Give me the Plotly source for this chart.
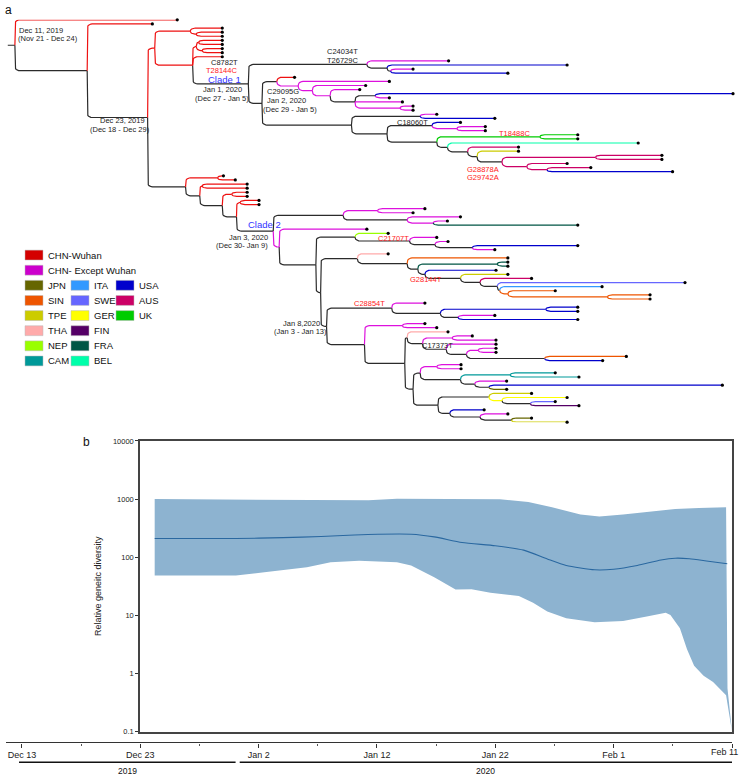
import numpy as np
import plotly.graph_objects as go
from collections import OrderedDict

W, H = 740, 782
FONT = "Liberation Sans, Arial, sans-serif"

# ---------------- legend / location data ----------------
loc_codes = ["WUH", "CHN", "JPN", "SIN", "TPE", "THA", "NEP", "CAM", "ITA", "SWE",
             "GER", "FIN", "FRA", "BEL", "USA", "AUS", "UK"]
loc_names = ["CHN-Wuhan", "CHN- Except Wuhan", "JPN", "SIN", "TPE", "THA", "NEP", "CAM",
             "ITA", "SWE", "GER", "FIN", "FRA", "BEL", "USA", "AUS", "UK"]
loc_colors = ["#d40000", "#cc00cc", "#666600", "#ee5500", "#cccc00", "#ffaaaa", "#99ff00",
              "#009999", "#3399ff", "#6666ff", "#ffff00", "#550066", "#005544", "#00ffaa",
              "#0000cc", "#cc0066", "#00cc00"]
legend_col = [0, 0, 0, 0, 0, 0, 0, 0, 1, 1, 1, 1, 1, 1, 2, 2, 2]
legend_row = [0, 1, 2, 3, 4, 5, 6, 7, 2, 3, 4, 5, 6, 7, 2, 3, 4]

# ---------------- tree data (times = days since Dec 13, 2019) ----------------
def N(t, c, *kids):
    return {"t": t, "c": c, "kids": list(kids)}


def L(t, c):
    return {"t": t, "c": c, "kids": []}


clade1_a = N(29.1, "K", L(36.0, "CHN"),
             N(30.8, "K", L(46.0, "USA"), N(31.1, "K", L(33.0, "CHN"), L(41.0, "USA"))))
clade1_jan2_top = N(21.5, "K",
                    L(23.0, "WUH"),
                    N(23.3, "CHN",
                      L(31.0, "CHN"),
                      N(24.5, "CHN",
                        L(29.0, "CHN"),
                        N(26.0, "CHN",
                          L(28.5, "CHN"),
                          N(28.1, "K",
                            N(29.8, "K", L(60.0, "USA"), L(31.0, "CHN")),
                            L(32.1, "CHN"),
                            N(31.9, "CHN", L(33.0, "CHN"), L(33.0, "CHN")))))))
clade1_jan2_bottom = N(27.8, "K",
                       N(33.6, "K", L(35.0, "CHN"), L(39.9, "USA")),
                       N(30.8, "K",
                         N(34.6, "K", L(37.0, "USA"),
                           N(36.7, "CHN", L(39.1, "CHN"), L(39.1, "CHN"))),
                         N(35.0, "K",
                           N(43.7, "UK", L(46.9, "UK"), L(46.9, "UK")),
                           N(35.9, "K",
                             L(52.0, "BEL"),
                             N(37.6, "K",
                               L(41.9, "AUS"),
                               N(38.4, "K",
                                 L(41.9, "TPE"),
                                 N(40.5, "K",
                                   N(48.4, "AUS", L(54.0, "AUS"), L(54.0, "AUS")),
                                   N(42.6, "AUS", L(46.0, "AUS"),
                                     N(44.3, "AUS", L(48.0, "AUS"), L(54.9, "USA"))))))))))
clade1 = N(19.1, "K", clade1_a, N(20.25, "K", clade1_jan2_top, clade1_jan2_bottom))

wuhan_early = N(11.2, "WUH",
                N(14.2, "WUH", L(16.9, "WUH"), N(14.7, "WUH", L(16.9, "WUH"), L(16.9, "WUH"))),
                N(14.4, "WUH",
                  N(14.7, "WUH",
                    N(14.9, "WUH", L(16.9, "WUH"), L(16.9, "WUH")),
                    N(15.2, "WUH", L(16.9, "WUH"), L(16.9, "WUH"))),
                  L(16.9, "WUH"),
                  clade1))

c2_top = N(27.1, "K",
           N(30.0, "CHN", L(34.0, "CHN"), L(33.0, "CHN")),
           N(32.5, "K", L(37.0, "CHN"), N(34.7, "CHN", L(35.9, "CHN"), L(46.9, "FRA"))))
c2_nep = N(28.1, "K",
           L(30.9, "NEP"),
           N(32.7, "K", L(35.0, "CHN"),
             N(34.85, "K", L(35.95, "CHN"), N(38.0, "K", L(46.9, "USA"), L(39.9, "CHN")))))
c2_g28144t = N(28.3, "K",
               L(30.9, "THA"),
               N(32.5, "K",
                 L(41.0, "SIN"),
                 N(33.4, "K",
                   N(40.1, "FRA", L(41.0, "FRA"), L(41.0, "FRA")),
                   N(34.0, "K",
                     L(40.0, "USA"),
                     N(37.0, "K",
                       L(41.0, "TPE"),
                       N(38.65, "K",
                         L(43.0, "AUS"),
                         N(40.1, "K",
                           L(55.95, "SWE"),
                           N(40.3, "K",
                             L(48.95, "ITA"),
                             N(41.0, "SIN", L(45.0, "SIN"),
                               N(49.4, "SIN", L(53.0, "SIN"), L(53.0, "SIN")))))))))))
c2_c28854t = N(31.2, "K",
               L(34.0, "CHN"),
               N(35.3, "K",
                 N(44.2, "USA", L(46.9, "USA"), L(46.9, "USA")),
                 N(36.8, "K", L(39.9, "CHN"), L(46.9, "USA"))))
c2_c17373t = N(33.8, "K",
               N(36.3, "CHN", L(38.0, "CHN"), L(40.0, "CHN")),
               N(35.8, "K",
                 L(40.0, "CHN"),
                 N(37.5, "K",
                   N(38.5, "CHN", L(40.0, "CHN"), L(40.0, "CHN")),
                   N(44.1, "K", L(51.0, "SIN"), L(49.0, "USA")))))
c2_late_a = N(33.6, "K",
              N(35.0, "CHN", L(37.05, "CHN"), L(37.05, "CHN")),
              N(37.0, "K",
                N(41.2, "CAM", L(45.0, "CAM"), L(47.0, "CAM")),
                N(38.2, "K", L(40.9, "CHN"), N(39.4, "K", L(59.1, "USA"), L(40.9, "JPN")))))
c2_late_b = N(35.1, "K",
              N(39.4, "K",
                L(43.0, "TPE"),
                N(40.5, "GER", L(46.0, "GER"), N(42.9, "K", L(45.0, "SWE"), L(47.0, "FIN")))),
              N(36.1, "K",
                L(39.0, "USA"),
                N(38.65, "K", L(41.0, "CHN"), N(41.3, "K", L(43.0, "JPN"), L(46.0, "TPE")))))
c2_jan8 = N(25.7, "K",
            c2_c28854t,
            N(28.9, "K",
              N(32.1, "CHN", L(34.0, "CHN"), L(35.0, "CHN")),
              N(32.3, "K",
                N(32.5, "K", L(35.95, "THA"), c2_c17373t),
                N(33.0, "K", c2_late_a, c2_late_b))))
clade2 = N(21.2, "K",
           c2_top,
           N(21.7, "CHN",
             L(29.1, "CHN"),
             N(24.8, "K", c2_nep, N(25.2, "K", c2_g28144t, c2_jan8))))

precursor = N(13.8, "K",
              N(16.5, "WUH", L(17.0, "WUH"), L(18.0, "WUH")),
              N(15.0, "K",
                N(15.2, "WUH", L(19.0, "WUH"), L(19.0, "WUH")),
                N(16.9, "K",
                  N(17.7, "WUH", L(19.0, "WUH"), L(19.0, "WUH")),
                  N(18.1, "K",
                    N(18.4, "WUH", L(20.0, "WUH"), L(20.0, "WUH")),
                    clade2))))

tree_root = N(-0.6, "K",
              L(13.1, "WUH"),
              N(5.5, "K",
                L(11.0, "WUH"),
                N(10.6, "K", wuhan_early, precursor)))
root_stub_start = -1.2

# ---------------- skyline data (days since Dec 13, 2019) ----------------
upper_day = [11.24, 18.1, 24.1, 29.3, 31.7, 36.0, 40.4, 42.8, 44.8, 47.2, 48.8, 50.8,
             53.2, 55.2, 57.2, 59.5, 59.62, 60.0]
upper_val = [1000, 987, 950, 950, 1013, 1013, 987, 889, 722, 541, 500, 541,
             617, 676, 703, 722, 0.55, 0.1]
lower_day = [11.24, 18.1, 20.5, 24.1, 26.1, 28.5, 31.7, 32.9, 34.85, 36.65, 38.0, 39.6,
             42.0, 43.2, 44.4, 46.0, 48.4, 50.8, 52.8, 54.4, 54.8, 55.6, 56.2, 56.8,
             57.6, 58.4, 59.5, 60.0]
lower_val = [48.5, 48.5, 55, 67, 82, 87, 82, 72, 45, 27.7, 28, 24.3,
             21.4, 16.4, 11.6, 8.9, 7.6, 8.0, 9.5, 11.1, 10.1, 6.0, 2.6, 1.36,
             0.91, 0.71, 0.42, 0.1]
median_day = [11.24, 18.1, 22.1, 25.3, 28.1, 30.1, 32.9, 34.85, 37.2, 40.0, 42.4, 44.4,
              46.0, 48.4, 50.0, 52.0, 54.0, 55.2, 56.4, 58.0, 59.6]
median_val = [209, 209, 217, 226, 241, 248, 248, 223, 179, 157, 132, 93,
              72, 60.6, 62, 72, 89.5, 96, 94, 85, 77]

date_tick_day = [0, 10, 20, 30, 40, 50, 60]
date_tick_text = ["Dec 13", "Dec 23", "Jan 2", "Jan 12", "Jan 22", "Feb 1", "Feb 11"]
year_text = ["2019", "2020"]
year_start = [-0.25, 18.4]
year_end = [18.05, 60.0]

div_ticks = [0.1, 1, 10, 100, 1000, 10000]
div_tick_text = ["0.1", "1", "10", "100", "1000", "10000"]

# ---------------- helpers ----------------
PX_PER_DAY = 11.85
X0_PX = 22.0


def px(x, y):
    return x / W, 1 - y / H


color_of = dict(zip(loc_codes, loc_colors))
color_of["K"] = "#2b2b2b"
line_color_of = dict(color_of)
line_color_of["WUH"] = "#ee1111"
line_color_of["CHN"] = "#dd11dd"

leaves = []


def layout_tree(node):
    if not node["kids"]:
        node["y"] = float(len(leaves))
        leaves.append(node)
        return node["y"]
    ys = [layout_tree(k) for k in node["kids"]]
    node["y"] = (ys[0] + ys[-1]) / 2.0
    return node["y"]


layout_tree(tree_root)
n_leaves = len(leaves)

segs = OrderedDict()


def add_seg(col, xs, ys):
    d = segs.setdefault(col, ([], []))
    d[0].extend(xs + [None])
    d[1].extend(ys + [None])


RX, RY = 0.42, 1.0
theta = np.linspace(0, np.pi / 2, 7)


def elbow(x0, y0, x1, y1):
    dy = y1 - y0
    if abs(dy) < 1e-9:
        return [x0, x1], [y0, y1]
    s = 1.0 if dy > 0 else -1.0
    ry = min(RY, abs(dy))
    rx = min(RX, max((x1 - x0) * 0.8, 0.05))
    xs = [x0]
    ys = [y0]
    for th in theta:
        xs.append(x0 + rx - rx * np.cos(th))
        ys.append(y1 - s * ry + s * ry * np.sin(th))
    xs.append(x1)
    ys.append(y1)
    return xs, ys


def draw(node):
    for k in node["kids"]:
        xs, ys = elbow(node["t"], node["y"], k["t"], k["y"])
        add_seg(k["c"], [float(v) for v in xs], [float(v) for v in ys])
        draw(k)


add_seg("K", [root_stub_start, tree_root["t"]], [tree_root["y"], tree_root["y"]])
draw(tree_root)

fig = go.Figure()

order = ["K"] + [c for c in segs if c != "K"]
for col in order:
    xs, ys = segs[col]
    fig.add_trace(go.Scatter(x=xs, y=ys, mode="lines", xaxis="x2", yaxis="y2",
                             line=dict(color=line_color_of[col], width=1.2),
                             hoverinfo="skip", showlegend=False))

fig.add_trace(go.Scatter(x=[lf["t"] for lf in leaves], y=[lf["y"] for lf in leaves],
                         mode="markers", xaxis="x2", yaxis="y2",
                         marker=dict(color="black", size=3.2),
                         cliponaxis=False, hoverinfo="skip", showlegend=False))

# ---------------- skyline panel ----------------
poly_x = list(upper_day) + list(lower_day[::-1])
poly_y = list(upper_val) + list(lower_val[::-1])
fig.add_trace(go.Scatter(x=poly_x, y=poly_y, mode="lines", fill="toself",
                         fillcolor="#8db3d0", line=dict(width=0, color="#8db3d0"),
                         xaxis="x", yaxis="y", hoverinfo="skip", showlegend=False))
fig.add_trace(go.Scatter(x=median_day, y=median_val, mode="lines",
                         line=dict(color="#2a68a0", width=1.1, shape="spline", smoothing=0.6),
                         xaxis="x", yaxis="y", hoverinfo="skip", showlegend=False))
fig.add_trace(go.Scatter(x=[0, 60], y=[0, 0], mode="markers", marker=dict(opacity=0),
                         xaxis="x3", yaxis="y3", hoverinfo="skip", showlegend=False))

annotations = []
shapes = []

for txt, xx, yy in [("a", 8, 6), ("b", 86, 443)]:
    ax, ay = px(xx, yy)
    annotations.append(dict(text=txt, x=ax, y=ay, xref="paper", yref="paper",
                            showarrow=False, xanchor="center", yanchor="middle",
                            font=dict(size=12, color="#111", family=FONT)))

DARK = "#222222"
RED = "#ff2020"
BLUE = "#3333ff"
tree_labels = [
    ("Dec 11, 2019", 17, 26.5, DARK, 7.5, "left"),
    ("(Nov 21 - Dec 24)", 16, 34.5, DARK, 7.5, "left"),
    ("Dec 23, 2019", 122, 118, DARK, 7.5, "center"),
    ("(Dec 18 - Dec 29)", 120, 126.5, DARK, 7.5, "center"),
    ("C8782T", 224, 59, DARK, 7.5, "center"),
    ("T28144C", 221, 67, RED, 7.5, "center"),
    ("Clade 1", 224, 76, BLUE, 9.5, "center"),
    ("Jan 1, 2020", 222, 87, DARK, 7.5, "center"),
    ("(Dec 27 - Jan 5)", 222, 95.5, DARK, 7.5, "center"),
    ("C24034T", 342, 48.5, DARK, 7.5, "center"),
    ("T26729C", 342, 57, DARK, 7.5, "center"),
    ("C29095G", 283, 89, DARK, 7.5, "center"),
    ("Jan 2, 2020", 286, 98, DARK, 7.5, "center"),
    ("(Dec 29 - Jan 5)", 290, 106.5, DARK, 7.5, "center"),
    ("C18060T", 412, 120, DARK, 7.5, "center"),
    ("T18488C", 514, 131, RED, 7.5, "center"),
    ("G28878A", 483, 167, RED, 7.5, "center"),
    ("G29742A", 483, 175.5, RED, 7.5, "center"),
    ("Clade 2", 264, 223, BLUE, 9.5, "center"),
    ("Jan 3, 2020", 270, 236, DARK, 7.5, "right"),
    ("(Dec 30- Jan 9)", 270, 244.5, DARK, 7.5, "right"),
    ("C21707T", 393, 237, RED, 7.5, "center"),
    ("G28144T", 426, 279, RED, 7.5, "center"),
    ("C28854T", 369, 303, RED, 7.5, "center"),
    ("C17373T", 437, 345, DARK, 7.5, "center"),
    ("Jan 8,2020", 301, 323, DARK, 7.5, "center"),
    ("(Jan 3 - Jan 13)", 300, 331.5, DARK, 7.5, "center"),
]
for txt, xx, yy, col, sz, anc in tree_labels:
    ax, ay = px(xx, yy)
    annotations.append(dict(text=txt, x=ax, y=ay, xref="paper", yref="paper",
                            showarrow=False, xanchor=anc, yanchor="middle",
                            font=dict(size=sz, color=col, family=FONT)))

col_x = [25, 71, 116]
for name, colr, c, r in zip(loc_names, loc_colors, legend_col, legend_row):
    yc = 254 + r * 15.3
    x0 = col_x[c]
    shapes.append(dict(type="rect", xref="paper", yref="paper",
                       x0=x0 / W, x1=(x0 + 18) / W, y0=1 - (yc + 5) / H, y1=1 - (yc - 5) / H,
                       fillcolor=colr, line=dict(color="#bbbbbb", width=0.5)))
    ax, ay = px(x0 + 21, yc)
    annotations.append(dict(text=name, x=ax, y=ay, xref="paper", yref="paper",
                            showarrow=False, xanchor="left", yanchor="middle",
                            font=dict(size=9.5, color="#111", family=FONT)))

for txt, a, b in zip(year_text, year_start, year_end):
    shapes.append(dict(type="line", xref="x3", yref="paper", x0=a, x1=b,
                       y0=1 - 767 / H, y1=1 - 767 / H, line=dict(color="#111", width=1.5)))
    annotations.append(dict(text=txt, x=(a + b) / 2, y=1 - 775.5 / H, xref="x3", yref="paper",
                            showarrow=False, xanchor="center", yanchor="middle",
                            font=dict(size=8.5, color="#111", family=FONT)))

# last date label sits flush with the right edge (as in the reference)
annotations.append(dict(text=date_tick_text[-1], x=1.0, y=1 - 757 / H, xref="paper",
                        yref="paper", showarrow=False, xanchor="right", yanchor="middle",
                        font=dict(size=9, color="#222", family=FONT)))
tick_text_shown = date_tick_text[:-1] + [""]

tree_x_range = [(0 - X0_PX) / PX_PER_DAY, (W - X0_PX) / PX_PER_DAY]
date_axis_left = (6 - X0_PX) / PX_PER_DAY

fig.update_layout(
    width=W, height=H, margin=dict(l=0, r=0, t=0, b=0),
    paper_bgcolor="white", plot_bgcolor="white", showlegend=False,
    font=dict(family=FONT, color="#111"),
    xaxis2=dict(domain=[0, 1], range=tree_x_range, visible=False, anchor="y2"),
    yaxis2=dict(domain=[1 - 423 / H, 1 - 16 / H], range=[n_leaves - 1, 0], visible=False,
                anchor="x2"),
    xaxis=dict(domain=[140 / W, 732 / W], range=[10, 60], showticklabels=False, ticks="",
               showline=True, mirror=True, linecolor="#444", linewidth=1.5,
               showgrid=False, zeroline=False, anchor="y"),
    yaxis=dict(domain=[1 - 736 / H, 1 - 442 / H], type="log", range=[-1, 4],
               tickvals=div_ticks, ticktext=div_tick_text, ticks="outside", ticklen=3,
               tickcolor="#333", tickfont=dict(size=7.5, color="#222"),
               showline=True, mirror=True, linecolor="#444", linewidth=1.5,
               showgrid=False, zeroline=False, anchor="x",
               title=dict(text="Relative geneitc diversity", font=dict(size=9, color="#222"),
                          standoff=10)),
    xaxis3=dict(domain=[6 / W, 732 / W], range=[date_axis_left, 60], anchor="free",
                position=1 - 747 / H, side="bottom",
                tickvals=date_tick_day, ticktext=tick_text_shown, ticks="outside", ticklen=4,
                tickcolor="#333", tickfont=dict(size=9, color="#222"),
                showline=True, linecolor="#333", linewidth=1.2, showgrid=False,
                zeroline=False,
                minor=dict(tickvals=[5, 15, 25, 35, 45, 55], ticks="outside", ticklen=2,
                           tickcolor="#555")),
    yaxis3=dict(domain=[0, 0.01], visible=False, anchor="x3", range=[0, 1]),
    annotations=annotations, shapes=shapes,
)

fig.write_html("out.html", config={"displayModeBar": False},
               post_script="document.body.style.margin='0px'; document.body.style.overflow='hidden';")
